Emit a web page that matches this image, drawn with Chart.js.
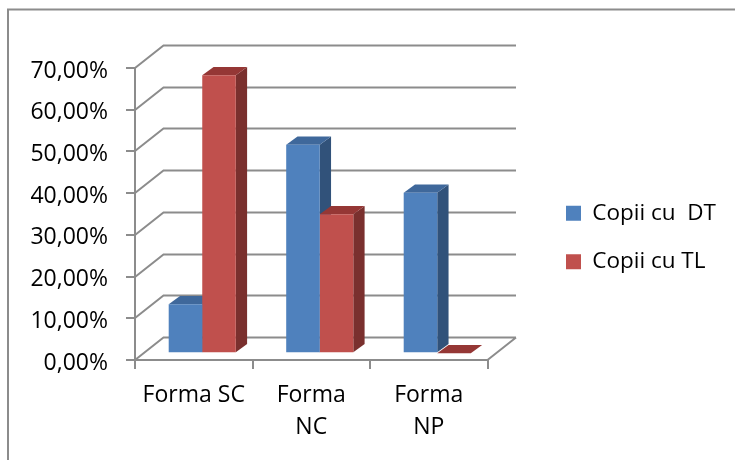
<!DOCTYPE html>
<html>
<head>
<meta charset="utf-8">
<script src="https://cdn.jsdelivr.net/npm/chart.js@4"></script>
<style>
  html, body { margin: 0; padding: 0; background: #fff; }
  canvas { display: block; }
</style>
</head>
<body>
<canvas id="chart" width="735" height="460"></canvas>
<script>
const categories = ['Forma SC', ['Forma', 'NC'], ['Forma', 'NP']];
const copiiDT = [11.76, 50, 38.46];
const copiiTL = [66.67, 33.33, 0];
const yTickLabels = ['0,00%', '10,00%', '20,00%', '30,00%', '40,00%', '50,00%', '60,00%', '70,00%'];

const fontName = '"Open Sans", sans-serif';
const gridColor = '#8c8c8c';

// adancimea peretilor si a barelor
const wallDx = 28.5, wallDy = 22.5;
const barShiftX = 8.5, barShiftY = 6.7;
const barDx = 11.3, barDy = 8.3;

const sideColors = ['#31527a', '#7a302e'];
const topColors = ['#3f689b', '#953735'];

function poly(ctx, pts, color) {
  ctx.fillStyle = color;
  ctx.beginPath();
  pts.forEach((p, i) => i ? ctx.lineTo(p[0], p[1]) : ctx.moveTo(p[0], p[1]));
  ctx.closePath();
  ctx.fill();
}

const box3d = {
  id: 'box3d',
  beforeDraw(chart) {
    const { ctx, scales, chartArea, width, height } = chart;
    // chenarul graficului (doar sus si stanga)
    ctx.save();
    ctx.strokeStyle = gridColor;
    ctx.lineWidth = 2;
    ctx.beginPath();
    ctx.moveTo(8, height);
    ctx.lineTo(8, 9.5);
    ctx.lineTo(width, 9.5);
    ctx.stroke();

    // peretele din spate si cel lateral
    const y = scales.y;
    ctx.beginPath();
    y.ticks.forEach(t => {
      const py = Math.round(y.getPixelForValue(t.value));
      ctx.moveTo(chartArea.left, py);
      ctx.lineTo(chartArea.left + wallDx, py - wallDy);
      ctx.lineTo(chartArea.right + wallDx, py - wallDy);
    });
    // podeaua
    ctx.moveTo(chartArea.right, chartArea.bottom);
    ctx.lineTo(chartArea.right + wallDx, chartArea.bottom - wallDy);
    ctx.stroke();
    ctx.restore();
  },
  beforeDatasetsDraw(chart) {
    const { ctx } = chart;
    ctx.save();
    ctx.translate(barShiftX, -barShiftY);
    chart.data.datasets.forEach((ds, i) => {
      chart.getDatasetMeta(i).data.forEach(bar => {
        const r = bar.x + bar.width / 2, l = bar.x - bar.width / 2;
        poly(ctx, [[r, bar.y], [r + barDx, bar.y - barDy], [r + barDx, bar.base - barDy], [r, bar.base]], sideColors[i]);
        poly(ctx, [[l, bar.y], [l + barDx, bar.y - barDy], [r + barDx, bar.y - barDy], [r, bar.y]], topColors[i]);
      });
    });
  },
  afterDatasetsDraw(chart) {
    chart.ctx.restore();
  },
  afterLayout(chart) {
    // legenda sta langa grafic, nu centrata
    chart.legend.left = 540;
    chart.legend.right = chart.width;
    chart.legend.top = 176;
  }
};

new Chart(document.getElementById('chart'), {
  type: 'bar',
  data: {
    labels: categories,
    datasets: [
      { label: 'Copii cu  DT', data: copiiDT, backgroundColor: '#4f81bd' },
      { label: 'Copii cu TL', data: copiiTL, backgroundColor: '#c0504d' }
    ]
  },
  plugins: [box3d],
  options: {
    responsive: false,
    animation: false,
    events: [],
    layout: { padding: { left: 0, right: 85, top: 68, bottom: 0 } },
    datasets: { bar: { categoryPercentage: 0.571, barPercentage: 1 } },
    plugins: {
      title: { display: false },
      tooltip: { enabled: false },
      legend: {
        position: 'right',
        align: 'start',
        labels: {
          boxWidth: 15,
          boxHeight: 15,
          padding: 26,
          color: '#000',
          font: { family: fontName, size: 22.5 }
        }
      }
    },
    scales: {
      x: {
        afterFit(scale) { scale.height = 100; },
        border: { color: gridColor, width: 2 },
        grid: { color: gridColor, lineWidth: 2, drawOnChartArea: false, tickLength: 9, offset: true },
        ticks: {
          color: '#000',
          maxRotation: 0,
          autoSkip: false,
          padding: 10,
          font: { family: fontName, size: 23, lineHeight: 1.39 }
        }
      },
      y: {
        min: 0,
        max: 70,
        afterFit(scale) { scale.width = 135; },
        border: { color: gridColor, width: 2 },
        grid: { color: gridColor, lineWidth: 2, drawOnChartArea: false, tickLength: 9 },
        ticks: {
          stepSize: 10,
          color: '#000',
          padding: 18,
          labelOffset: 3,
          font: { family: fontName, size: 23 },
          callback: (value, i) => yTickLabels[i]
        }
      }
    }
  }
});
</script>
</body>
</html>
